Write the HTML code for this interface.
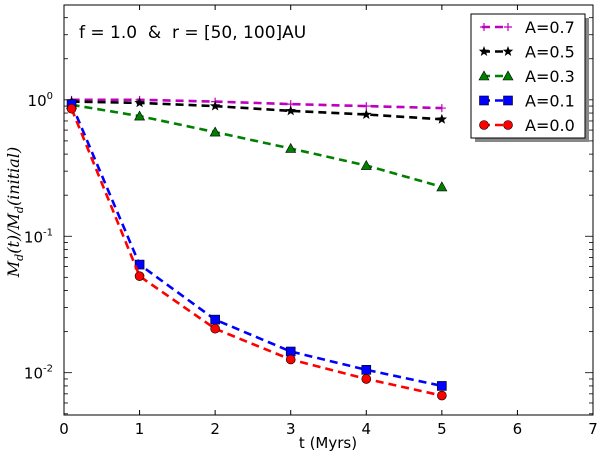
<!DOCTYPE html>
<html><head><meta charset="utf-8"><style>
body{margin:0;background:#fff;}
svg{display:block;font-family:"DejaVu Sans","Liberation Sans",sans-serif;}
</style></head><body>
<svg id="chart" width="600" height="454" viewBox="0 0 600 454">
<rect x="0" y="0" width="600" height="454" fill="#fff"/>
<g id="series"></g>
<rect x="64" y="5" width="529" height="410" fill="none" stroke="#000" stroke-width="1"/>
<g id="ticks"></g>
<text x="79" y="38" font-size="17" xml:space="preserve" style="white-space:pre">f = 1.0  &amp;  r = [50, 100]AU</text>
<text x="328" y="448" font-size="15" text-anchor="middle">t (Myrs)</text>
<text transform="translate(19,212) rotate(-90)" font-size="16" font-family="'DejaVu Serif','Liberation Serif',serif" font-style="italic" text-anchor="middle">M<tspan font-size="11" dy="4">d</tspan><tspan dy="-4">(t)/M</tspan><tspan font-size="11" dy="4">d</tspan><tspan dy="-4">(initial)</tspan></text>
<g id="legend"></g>
</svg>
<script>
const xValues=[0.1,1,2,3,4,5];
const seriesNames=["A=0.7","A=0.5","A=0.3","A=0.1","A=0.0"];
const a07=[1.0,1.0,0.97,0.93,0.9,0.87];
const a05=[0.97,0.95,0.9,0.83,0.78,0.72];
const a03=[0.92,0.76,0.58,0.44,0.33,0.23];
const a01=[0.93,0.062,0.0245,0.0143,0.0105,0.008];
const a00=[0.86,0.051,0.021,0.0125,0.009,0.0068];
const xTicks=[0,1,2,3,4,5,6,7];
const yDecades=[-2,-1,0];
const colors=["#bf00bf","#000000","#007f00","#0000ff","#ff0000"];
const markers=["plus","star","tri","square","circle"];
const allSeries=[a07,a05,a03,a01,a00];

const NS="http://www.w3.org/2000/svg";
const L=64,R=593,T=5,B=415,XMIN=0,XMAX=7,YMIN=-2.31,YMAX=0.695;
function sx(v){return L+(v-XMIN)/(XMAX-XMIN)*(R-L);}
function sy(v){return B-(Math.log10(v)-YMIN)/(YMAX-YMIN)*(B-T);}
function mk(tag,attrs,parent){const e=document.createElementNS(NS,tag);for(const k in attrs)e.setAttribute(k,attrs[k]);parent.appendChild(e);return e;}
const ticksG=document.getElementById('ticks');
xTicks.forEach(t=>{
  const x=sx(t);
  const l1=mk('line',{x1:x,y1:B,x2:x,y2:B-5,stroke:'#000'},ticksG);
  
  
  const l2=mk('line',{x1:x,y1:T,x2:x,y2:T+5,stroke:'#000'},ticksG);
  
  
  const tx=mk('text',{x:x,y:B+19,'font-size':15,'text-anchor':'middle'},ticksG);
  tx.textContent=t;
  
  
});
for(let d=-3;d<=0;d++){
  for(let m=1;m<10;m++){
    const v=m*Math.pow(10,d);
    const lv=Math.log10(v);
    if(lv<YMIN||lv>YMAX)continue;
    const y=sy(v);const len=m===1?8:4;
    const a=mk('line',{x1:L,y1:y,x2:L+len,y2:y,stroke:'#000','stroke-width':0.8},ticksG);
    
    
    const b=mk('line',{x1:R,y1:y,x2:R-len,y2:y,stroke:'#000','stroke-width':0.8},ticksG);
    
    
  }
}
yDecades.forEach(d=>{
  const y=sy(Math.pow(10,d));
  const tx=mk('text',{x:53,y:y+6,'font-size':15,'text-anchor':'end'},ticksG);
  tx.innerHTML='10<tspan font-size="10" dy="-7">'+d+'</tspan>';
  
  
});
function drawMarker(g,type,x,y,c){
  let e;
  if(type==='plus'){e=mk('path',{d:`M${x-4},${y}H${x+4}M${x},${y-4}V${y+4}`,stroke:c,'stroke-width':1.2,fill:'none'},g);}
  else if(type==='star'){let p='';for(let i=0;i<10;i++){const r=i%2?2.3:5.5;const a=-Math.PI/2+i*Math.PI/5;p+=(i?'L':'M')+(x+r*Math.cos(a)).toFixed(2)+','+(y+r*Math.sin(a)).toFixed(2);}e=mk('path',{d:p+'Z',fill:c},g);}
  else if(type==='tri'){e=mk('path',{d:`M${x},${y-5}L${x+5},${y+4}L${x-5},${y+4}Z`,fill:c,stroke:'#000','stroke-width':0.6},g);}
  else if(type==='square'){e=mk('rect',{x:x-4.5,y:y-4.5,width:9,height:9,fill:c,stroke:'#000','stroke-width':0.6},g);}
  else{e=mk('circle',{cx:x,cy:y,r:4.5,fill:c,stroke:'#000','stroke-width':0.6},g);}
  return e;
}
const sG=document.getElementById('series');
allSeries.forEach((vals,i)=>{
  const g=mk('g',{},sG);
  
  
  const pts=vals.map((v,j)=>sx(xValues[j]).toFixed(1)+','+sy(v).toFixed(1)).join(' ');
  const pl=mk('polyline',{points:pts,fill:'none',stroke:colors[i],'stroke-width':2.6,'stroke-dasharray':'8,5'},g);
  
  
  vals.forEach((v,j)=>{
    const m=drawMarker(g,markers[i],sx(xValues[j]),sy(v),colors[i]);
    
    
  });
});
const lg=document.getElementById('legend');
mk('rect',{x:475,y:18,width:114,height:124,fill:'#888'},lg);
const box=mk('rect',{x:471,y:14,width:114,height:124,fill:'#fff',stroke:'#000','stroke-width':1},lg);


seriesNames.forEach((n,i)=>{
  const y=27+i*24.5;
  const g=mk('g',{},lg);
  
  
  mk('line',{x1:482,y1:y,x2:508,y2:y,stroke:colors[i],'stroke-width':2.6,'stroke-dasharray':'8,5'},g);
  drawMarker(g,markers[i],484,y,colors[i]);
  drawMarker(g,markers[i],508,y,colors[i]);
  const t=mk('text',{x:525,y:y+6,'font-size':16},g);
  t.textContent=n;
});
</script>
</body></html>
